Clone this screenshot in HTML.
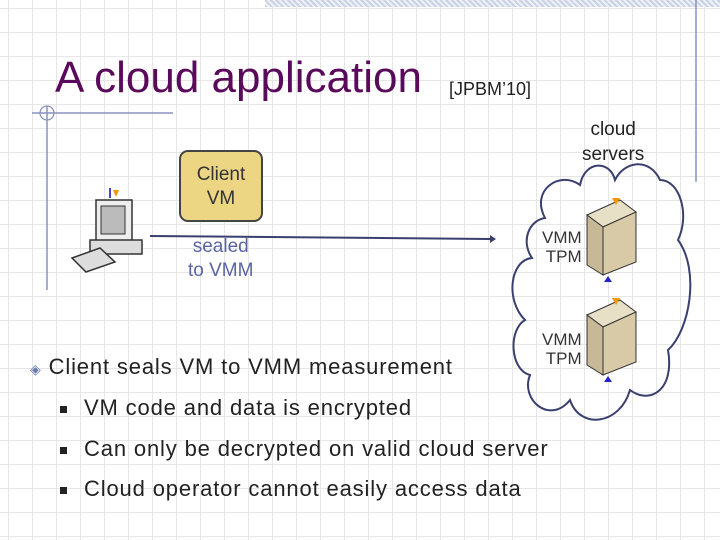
<!DOCTYPE html>
<html><head><meta charset="utf-8"><style>
body{margin:0;width:720px;height:540px;overflow:hidden;background:#fff;font-family:"Liberation Sans",sans-serif;position:relative}
.grid{position:absolute;inset:0;background-image:linear-gradient(#e6e6e6 1px,transparent 1px),linear-gradient(90deg,#e6e6e6 1px,transparent 1px);background-size:24px 24px;background-position:8px 8px}
.t{position:absolute;white-space:nowrap}
.b{position:absolute;left:60px;font-size:22px;color:#222;white-space:nowrap;letter-spacing:0.85px}
.b span{display:inline-block;width:7px;height:7px;background:#222;margin-right:17px;vertical-align:middle}
</style></head><body>
<div class="grid"></div>
<div style="position:absolute;left:265px;top:0;width:455px;height:7px;background:repeating-linear-gradient(45deg,#c8d2e4 0 2px,#eef1f7 2px 4px)"></div>
<svg width="720" height="540" style="position:absolute;left:0;top:0">
<line x1="696" y1="0" x2="696" y2="182" stroke="#8892c0" stroke-width="1.5"/>
<line x1="32" y1="113" x2="173" y2="113" stroke="#8892c0" stroke-width="1.5"/>
<line x1="47" y1="106" x2="47" y2="290" stroke="#8892c0" stroke-width="1.5"/>
<circle cx="47" cy="113" r="7" fill="none" stroke="#8892c0" stroke-width="1.2"/>
<line x1="150" y1="236" x2="490" y2="239" stroke="#3a3f6e" stroke-width="2"/>
<polygon points="490,235 496,239 490,243" fill="#3a3f6e"/>
<path d="M545,218 C530,190 560,170 580,185 C585,160 610,160 615,180 C625,160 650,158 660,180 C680,180 690,215 678,240 C700,270 690,330 668,350 C675,390 650,405 630,390 C620,425 580,430 570,400 C550,425 520,400 530,375 C510,370 508,330 525,320 C505,300 510,260 532,258 C520,240 530,220 545,218 Z" fill="none" stroke="#3a3f6e" stroke-width="2"/>
<g>
<rect x="96" y="200" width="36" height="42" fill="#eee" stroke="#333" stroke-width="1.5"/>
<rect x="101" y="206" width="24" height="28" fill="#bbb" stroke="#333"/>
<rect x="90" y="240" width="52" height="14" fill="#ddd" stroke="#333" stroke-width="1.5"/>
<polygon points="72,258 100,248 115,262 86,272" fill="#ddd" stroke="#333" stroke-width="1.5"/>
<line x1="110" y1="188" x2="110" y2="198" stroke="#44c" stroke-width="2"/>
<polygon points="113,190 119,190 116,197" fill="#e90"/>
</g>
<g id="s1">
<polygon points="587,215 620,200 636,212 603,227" fill="#e8dfc7" stroke="#333"/>
<polygon points="587,215 603,227 603,275 587,265" fill="#c7b998" stroke="#333"/>
<polygon points="603,227 636,212 636,262 603,275" fill="#d8caa6" stroke="#333"/>
<polygon points="612,198 620,198 616,205" fill="#e90"/>
<polygon points="604,282 608,276 612,282" fill="#22c"/>
</g>
<use href="#s1" transform="translate(0,100)"/>
</svg>
<div class="t" style="left:55px;top:53px;font-size:44px;color:#5a0a5a">A cloud application</div>
<div class="t" style="left:449px;top:79px;font-size:18px;color:#222">[JPBM’10]</div>
<div class="t" style="left:582px;top:117px;font-size:19px;color:#222;text-align:center;line-height:25px">cloud<br>servers</div>
<div style="position:absolute;left:179px;top:150px;width:84px;height:72px;background:#ecd684;border:2px solid #444;border-radius:9px;box-sizing:border-box;text-align:center;font-size:19px;color:#333;line-height:24px;padding-top:11px">Client<br>VM</div>
<div class="t" style="left:188px;top:235px;font-size:19px;color:#5a64a0;text-align:center;line-height:24px">sealed<br>to VMM</div>
<div class="t" style="left:542px;top:228px;font-size:17px;color:#333;text-align:right;line-height:19px">VMM<br>TPM</div>
<div class="t" style="left:542px;top:330px;font-size:17px;color:#333;text-align:right;line-height:19px">VMM<br>TPM</div>
<div class="t" style="left:30px;top:354px;font-size:22px;color:#222;letter-spacing:0.85px"><span style="color:#6a7ab0;font-size:14px">◈</span> Client seals VM to VMM measurement</div>
<div class="b" style="top:395px"><span></span>VM code and data is encrypted</div>
<div class="b" style="top:436px"><span></span>Can only be decrypted on valid cloud server</div>
<div class="b" style="top:476px"><span></span>Cloud operator cannot easily access data</div>
</body></html>
